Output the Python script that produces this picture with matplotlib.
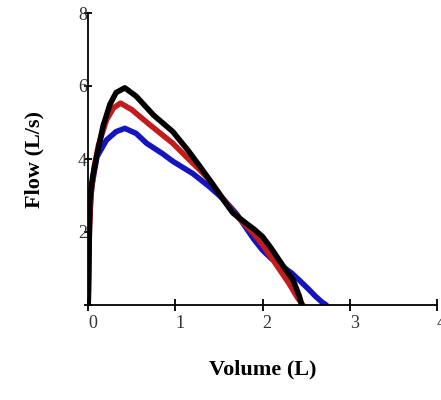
import matplotlib
matplotlib.use("Agg")
from matplotlib import pyplot as plt

# flow-volume curves
vol_black = [0.0, 0.01, 0.02, 0.05, 0.1, 0.17, 0.25, 0.32, 0.42, 0.55, 0.75, 0.97, 1.15, 1.28, 1.4, 1.55, 1.66, 1.81, 1.9, 2.0, 2.1, 2.19, 2.27, 2.35, 2.42, 2.45]
flow_black = [0.0, 1.5, 2.9, 3.5, 4.1, 4.9, 5.5, 5.82, 5.95, 5.72, 5.2, 4.75, 4.22, 3.8, 3.4, 2.88, 2.52, 2.24, 2.08, 1.87, 1.55, 1.23, 0.95, 0.68, 0.25, 0.0]

vol_red = [0.0, 0.01, 0.03, 0.07, 0.12, 0.21, 0.29, 0.37, 0.5, 0.7, 0.97, 1.15, 1.28, 1.4, 1.55, 1.66, 1.8, 1.9, 2.0, 2.1, 2.2, 2.3, 2.4, 2.46]
flow_red = [0.0, 1.8, 3.0, 3.8, 4.4, 5.07, 5.4, 5.53, 5.35, 4.95, 4.43, 4.0, 3.7, 3.4, 2.9, 2.55, 2.2, 1.95, 1.65, 1.3, 0.95, 0.6, 0.2, 0.0]

vol_blue = [0.0, 0.01, 0.04, 0.1, 0.21, 0.32, 0.42, 0.55, 0.67, 0.85, 0.975, 1.2, 1.39, 1.55, 1.7, 1.8, 1.9, 2.0, 2.1, 2.23, 2.33, 2.42, 2.52, 2.61, 2.68, 2.73]
flow_blue = [0.0, 2.2, 3.24, 4.06, 4.52, 4.75, 4.84, 4.7, 4.43, 4.15, 3.93, 3.6, 3.24, 2.9, 2.5, 2.15, 1.8, 1.5, 1.27, 1.05, 0.88, 0.68, 0.45, 0.23, 0.08, 0.0]

x_ticks = [0, 1, 2, 3, 4]
y_ticks = [0, 2, 4, 6, 8]
y_tick_labels = ["", "2", "4", "6", "8"]

plt.rcParams['font.family'] = ['Liberation Serif', 'DejaVu Serif']

fig = plt.figure(figsize=(4.41, 4.0), dpi=100)
ax = fig.add_axes([0.2, 0.2375, 0.791, 0.73])

ax.plot(vol_blue, flow_blue, color="#1414c0", lw=4, solid_joinstyle="round", solid_capstyle="round")
ax.plot(vol_red, flow_red, color="#c41c1c", lw=4, solid_joinstyle="round", solid_capstyle="round")
ax.plot(vol_black, flow_black, color="black", lw=4, solid_joinstyle="round", solid_capstyle="round")

ax.set_xlim(0, 4)
ax.set_ylim(0, 8)
ax.spines["top"].set_visible(False)
ax.spines["right"].set_visible(False)
ax.spines["left"].set_linewidth(1.3)
ax.spines["bottom"].set_linewidth(1.3)

ax.set_xticks(x_ticks)
ax.set_xticklabels([str(v) for v in x_ticks])
ax.set_yticks(y_ticks)
ax.set_yticklabels(y_tick_labels)
ax.tick_params(axis="x", direction="inout", length=8, width=1.3, labelsize=13, pad=3, labelcolor="#333333")
ax.tick_params(axis="y", direction="inout", length=6, width=1.3, labelsize=13, pad=-2, labelcolor="#333333")
for lbl in ax.get_xticklabels():
    lbl.set_horizontalalignment("left")

ax.set_xlabel("Volume (L)", fontsize=16, fontweight="bold", labelpad=20)
ax.set_ylabel("Flow (L/s)", fontsize=16, fontweight="bold", labelpad=24)

fig.savefig("out.png", dpi=100)
